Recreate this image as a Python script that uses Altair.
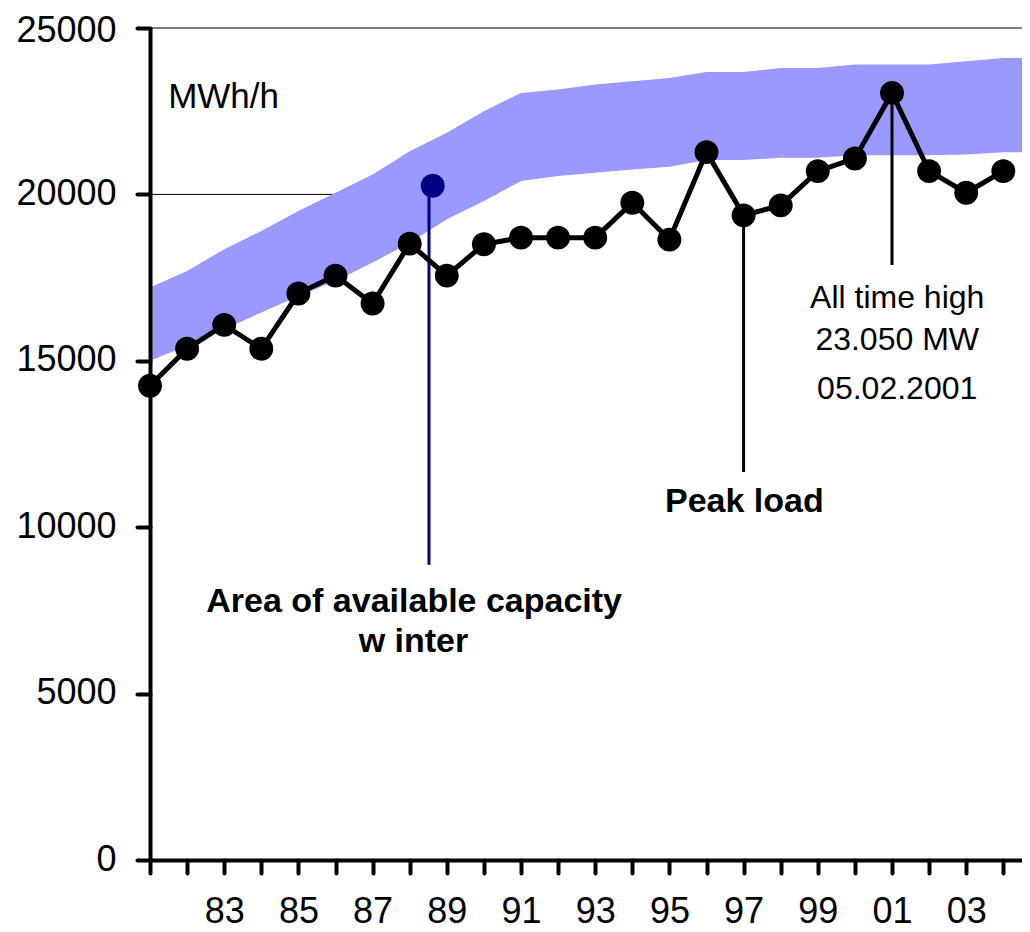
import altair as alt
import pandas as pd

# ---- data ----
years = list(range(1981, 2005))
peak_load = [14250, 15360, 16080, 15360, 17020, 17560, 16720, 18520, 17560, 18500,
             18700, 18700, 18700, 19750, 18640, 21270, 19370, 19670, 20700, 21080,
             23050, 20700, 20050, 20700]

band_years = list(range(1981, 2006))
cap_low = [15000, 15450, 15950, 16450, 16950, 17400, 17950, 18550, 19250, 19800,
           20400, 20550, 20650, 20750, 20830, 21030, 21030, 21100, 21100, 21180,
           21180, 21180, 21200, 21270, 21270]
cap_high = [17200, 17700, 18350, 18900, 19500, 20050, 20600, 21300, 21850, 22500,
            23050, 23150, 23300, 23400, 23500, 23680, 23680, 23800, 23800, 23900,
            23900, 23900, 24000, 24100, 24100]

y_ticks = [0, 5000, 10000, 15000, 20000, 25000]
grid_values = [5000, 10000, 15000, 20000, 25000]

# annotations (year, value)
cap_marker_year, cap_marker_value = 1988.62, 20260
cap_line = {"x": 1988.52, "y_top": 20260, "y_bottom": 8870}
peak_line = {"x": 1997, "y_top": 19370, "y_bottom": 11660}
ath_line = {"x": 2001, "y_top": 23050, "y_bottom": 17880}

unit_label = ("MWh/h", 1981.49, 22930)
bold_labels = [("Area of available capacity", 1988.12, 7740),
               ("w inter", 1988.10, 6560),
               ("Peak load", 1997.02, 10760)]
normal_labels = [("All time high", 2001.14, 16890),
                 ("23.050 MW", 2001.14, 15620),
                 ("05.02.2001", 2001.14, 14160)]

FONT = "Liberation Sans"

peak_df = pd.DataFrame({"year": years, "load": peak_load})
band_df = pd.DataFrame({"year": band_years, "low": cap_low, "high": cap_high})
grid_df = pd.DataFrame({"v": grid_values})
vlines_df = pd.DataFrame({
    "x": [cap_line["x"], peak_line["x"], ath_line["x"]],
    "y1": [cap_line["y_top"], peak_line["y_top"], ath_line["y_top"]],
    "y2": [cap_line["y_bottom"], peak_line["y_bottom"], ath_line["y_bottom"]],
    "kind": ["cap", "peak", "ath"],
})
marker_df = pd.DataFrame({"x": [cap_marker_year], "y": [cap_marker_value]})
unit_df = pd.DataFrame({"t": [unit_label[0]], "x": [unit_label[1]], "y": [unit_label[2]]})
bold_df = pd.DataFrame({"t": [b[0] for b in bold_labels], "x": [b[1] for b in bold_labels],
                        "y": [b[2] for b in bold_labels]})
norm_df = pd.DataFrame({"t": [b[0] for b in normal_labels], "x": [b[1] for b in normal_labels],
                        "y": [b[2] for b in normal_labels]})

xs = alt.Scale(domain=[1981, 2004.504], nice=False, zero=False)
ys = alt.Scale(domain=[0, 25000], nice=False)

x_axis = alt.Axis(values=years, title=None, grid=False,
                  labelExpr="datum.value % 2 == 1 && datum.value >= 1983 ? format(datum.value % 100, '02d') : ''",
                  labelPadding=21, labelBaseline="top", labelOverlap=False, labelFlush=False,
                  tickSize=13, zindex=1)
y_axis = alt.Axis(values=y_ticks, title=None, grid=False, format="d",
                  labelPadding=21, labelOverlap=False, labelFlush=False,
                  labelBaseline="middle",
                  labelOffset={"condition": {"test": "datum.value == 25000", "value": 2},
                               "value": -1},
                  tickSize=13, zindex=1)

grid = alt.Chart(grid_df).mark_rule(color="black", strokeWidth=1).encode(
    y=alt.Y("v:Q", scale=ys, axis=y_axis)
)

white_fill = alt.Chart(band_df).mark_area(color="white", opacity=1, clip=True).encode(
    x=alt.X("year:Q", scale=xs, axis=x_axis),
    y=alt.Y("low:Q", scale=ys, axis=y_axis),
)

band = alt.Chart(band_df).mark_area(color="#9999FF", opacity=1, clip=True).encode(
    x=alt.X("year:Q", scale=xs, axis=x_axis),
    y=alt.Y("low:Q", scale=ys, axis=y_axis),
    y2="high:Q",
)

vlines = alt.Chart(vlines_df).mark_rule(strokeWidth=3).encode(
    x=alt.X("x:Q", scale=xs, axis=x_axis),
    y=alt.Y("y1:Q", scale=ys, axis=y_axis),
    y2="y2:Q",
    color=alt.Color("kind:N", scale=alt.Scale(domain=["cap", "peak", "ath"],
                                              range=["#000080", "black", "black"]),
                    legend=None),
)

marker = alt.Chart(marker_df).mark_point(filled=True, shape="circle", size=572,
                                         color="#000080", opacity=1).encode(
    x=alt.X("x:Q", scale=xs, axis=x_axis),
    y=alt.Y("y:Q", scale=ys, axis=y_axis),
)

line = alt.Chart(peak_df).mark_line(color="black", strokeWidth=5).encode(
    x=alt.X("year:Q", scale=xs, axis=x_axis),
    y=alt.Y("load:Q", scale=ys, axis=y_axis),
)
points = alt.Chart(peak_df).mark_point(filled=True, shape="circle", size=572,
                                       color="black", opacity=1).encode(
    x=alt.X("year:Q", scale=xs, axis=x_axis),
    y=alt.Y("load:Q", scale=ys, axis=y_axis),
)

unit_text = alt.Chart(unit_df).mark_text(align="left", baseline="middle", font=FONT,
                                         fontSize=35, color="black").encode(
    x=alt.X("x:Q", scale=xs, axis=x_axis),
    y=alt.Y("y:Q", scale=ys, axis=y_axis),
    text="t:N",
)
bold_text = alt.Chart(bold_df).mark_text(align="center", baseline="middle", font=FONT,
                                         fontSize=34, fontWeight="bold", color="black").encode(
    x=alt.X("x:Q", scale=xs, axis=x_axis),
    y=alt.Y("y:Q", scale=ys, axis=y_axis),
    text="t:N",
)
norm_text = alt.Chart(norm_df).mark_text(align="center", baseline="middle", font=FONT,
                                         fontSize=32, color="black").encode(
    x=alt.X("x:Q", scale=xs, axis=x_axis),
    y=alt.Y("y:Q", scale=ys, axis=y_axis),
    text="t:N",
)

chart = alt.layer(
    grid, white_fill, band, vlines, marker, line, points, unit_text, bold_text, norm_text
).properties(
    width=872, height=832,
    autosize=alt.AutoSizeParams(type="none"),
    padding={"left": 142, "top": 20, "right": 0, "bottom": 72},
).configure_view(stroke=None).configure_axis(
    domainColor="black", domainWidth=4, tickColor="black", tickWidth=4, tickCap="round",
    labelFont=FONT, labelFontSize=36, labelColor="black",
)

chart.save("out.html", embed_options={"renderer": "svg", "actions": False})
